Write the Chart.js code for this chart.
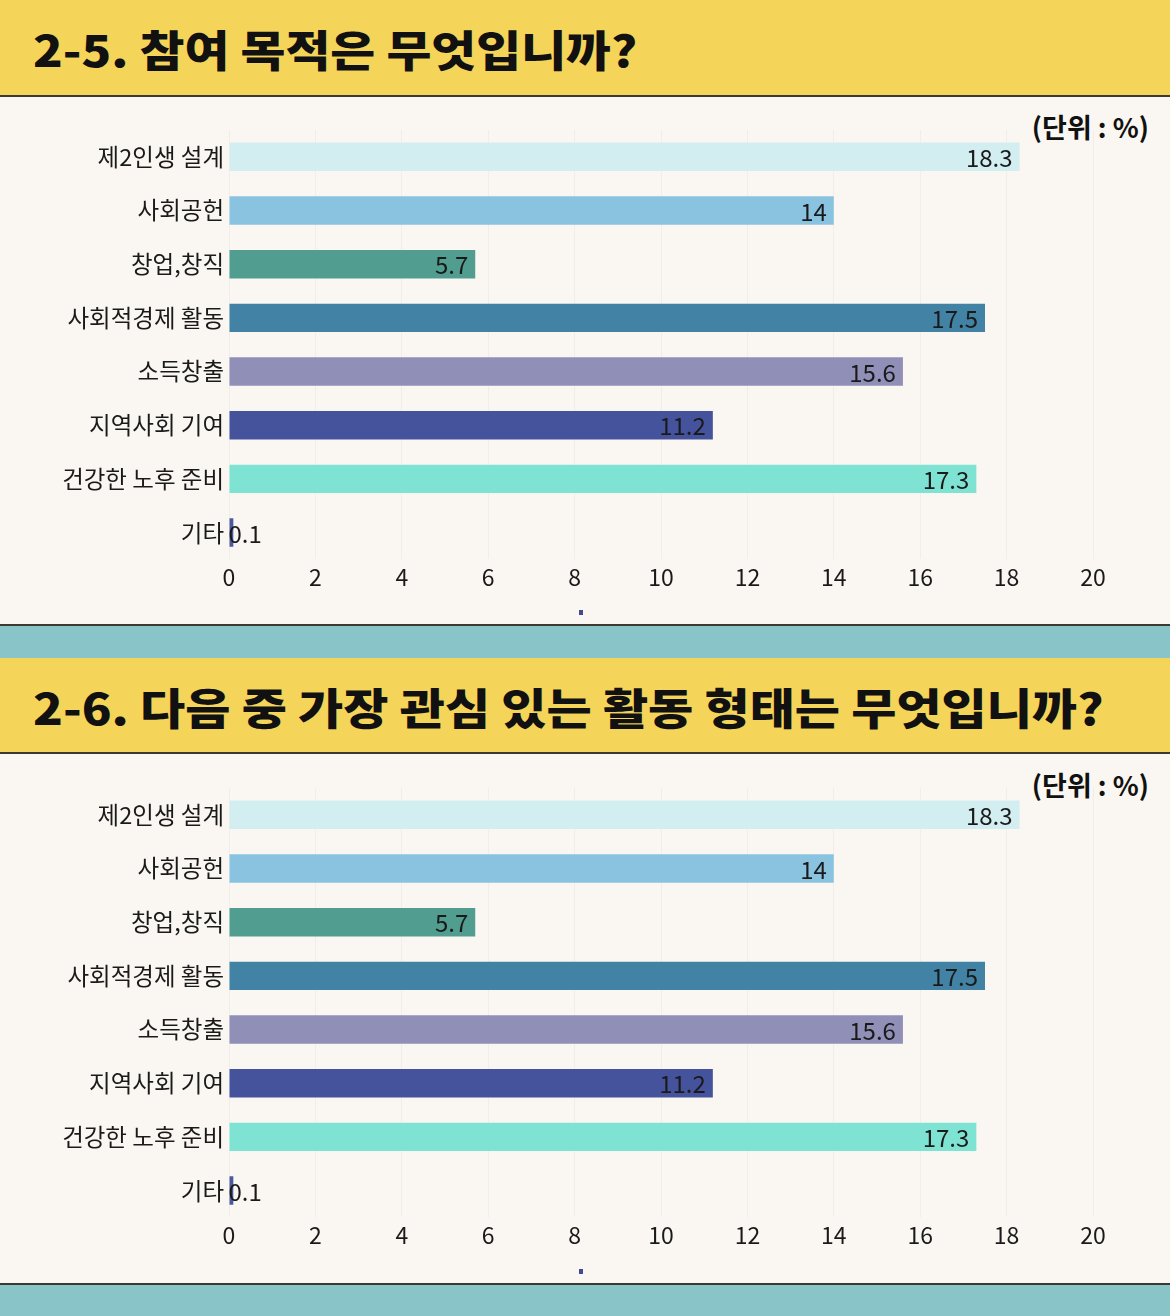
<!DOCTYPE html>
<html><head><meta charset="utf-8">
<script src="https://cdn.jsdelivr.net/npm/chart.js@4"></script>
<style>
html,body{margin:0;padding:0;}
body{width:1170px;height:1316px;position:relative;overflow:hidden;background:#faf7f2;font-family:"Noto Sans CJK KR","Noto Sans",sans-serif;}
.band{position:absolute;left:0;width:1170px;}
.yellow{background:#f5d45a;}
.teal{background:#88c4c8;}
.line{background:#3b3a30;height:2px;}
.title{position:absolute;left:33px;font-weight:900;font-size:43px;color:#111;letter-spacing:0px;line-height:1;white-space:nowrap;transform-origin:left center;}
.unit{position:absolute;right:21px;font-weight:700;font-size:27px;color:#111;line-height:1;}
.cw{position:absolute;left:0;width:1170px;height:528px;}
.dot{position:absolute;width:4px;height:5px;background:#404c8c;}
</style></head><body>
<div class="band yellow" style="top:0;height:95px"></div>
<div class="band line" style="top:95px"></div>
<div class="band line" style="top:624px"></div>
<div class="band teal" style="top:626px;height:32px"></div>
<div class="band yellow" style="top:658px;height:94px"></div>
<div class="band line" style="top:752px"></div>
<div class="band line" style="top:1283px"></div>
<div class="band teal" style="top:1285px;height:31px"></div>

<div class="title" id="t1" style="top:27px">2-5. 참여 목적은 무엇입니까?</div>
<div class="title" id="t2" style="top:685px">2-6. 다음 중 가장 관심 있는 활동 형태는 무엇입니까?</div>
<div class="unit" style="top:113px">(단위 : %)</div>
<div class="unit" style="top:771px">(단위 : %)</div>

<div class="cw" style="top:97px"><canvas id="c1"></canvas></div>
<div class="cw" style="top:755px"><canvas id="c2"></canvas></div>
<div class="dot" style="left:579px;top:610px"></div>
<div class="dot" style="left:579px;top:1269px"></div>

<script>
const categories = ["제2인생 설계","사회공헌","창업,창직","사회적경제 활동","소득창출","지역사회 기여","건강한 노후 준비","기타"];
const values1 = [18.3, 14, 5.7, 17.5, 15.6, 11.2, 17.3, 0.1];
const values2 = [18.3, 14, 5.7, 17.5, 15.6, 11.2, 17.3, 0.1];
const barColors = ["#d3eef1","#89c3e0","#519d90","#4283a5","#8f8fb8","#45539d","#7fe3d4","#4b5aa0"];
const xTicks = [0,2,4,6,8,10,12,14,16,18,20];

const FONT = '"Noto Sans CJK KR","Noto Sans",sans-serif';

const valueLabels = {
  id:'valueLabels',
  afterDatasetsDraw(chart){
    const ctx = chart.ctx;
    const meta = chart.getDatasetMeta(0);
    const data = chart.data.datasets[0].data;
    ctx.save();
    ctx.font = '400 24px ' + FONT;
    ctx.fillStyle = '#1a1a1a';
    ctx.textBaseline = 'middle';
    ctx.textAlign = 'left';
    meta.data.forEach((bar,i)=>{
      const txt = String(data[i]);
      const w = ctx.measureText(txt).width;
      const start = bar.base;
      let x = bar.x - 7 - w;
      if (x < start) x = start - 1;
      ctx.fillText(txt, x, bar.y + 1);
    });
    ctx.restore();
  }
};

function makeChart(id, values){
  return new Chart(document.getElementById(id), {
    type:'bar',
    data:{labels:categories, datasets:[{data:values, backgroundColor:barColors, borderWidth:0, categoryPercentage:1, barPercentage:0.53}]},
    options:{
      indexAxis:'y',
      responsive:true, maintainAspectRatio:false, animation:false,
      layout:{padding:{top:33,bottom:30,right:77,left:0}},
      plugins:{legend:{display:false},tooltip:{enabled:false}},
      scales:{
        x:{min:0,max:20,
          afterBuildTicks(ax){ ax.ticks = xTicks.map(v=>({value:v})); },
          grid:{color:'rgba(0,0,0,0.035)',drawTicks:false},
          border:{display:false},
          ticks:{padding:4,color:'#1a1a1a',font:{family:FONT,size:23}}
        },
        y:{
          grid:{display:false,drawTicks:false},
          border:{display:false},
          afterFit(ax){ ax.width = 229; },
          ticks:{padding:5,color:'#1a1a1a',font:{family:FONT,size:23.5}}
        }
      }
    },
    plugins:[valueLabels]
  });
}
makeChart('c1', values1);
makeChart('c2', values2);

function fit(id, w){ const el=document.getElementById(id); const r=el.scrollWidth; el.style.transform='scaleX('+(w/r)+')'; }
fit('t1', 604); fit('t2', 1070);
</script>
</body></html>
